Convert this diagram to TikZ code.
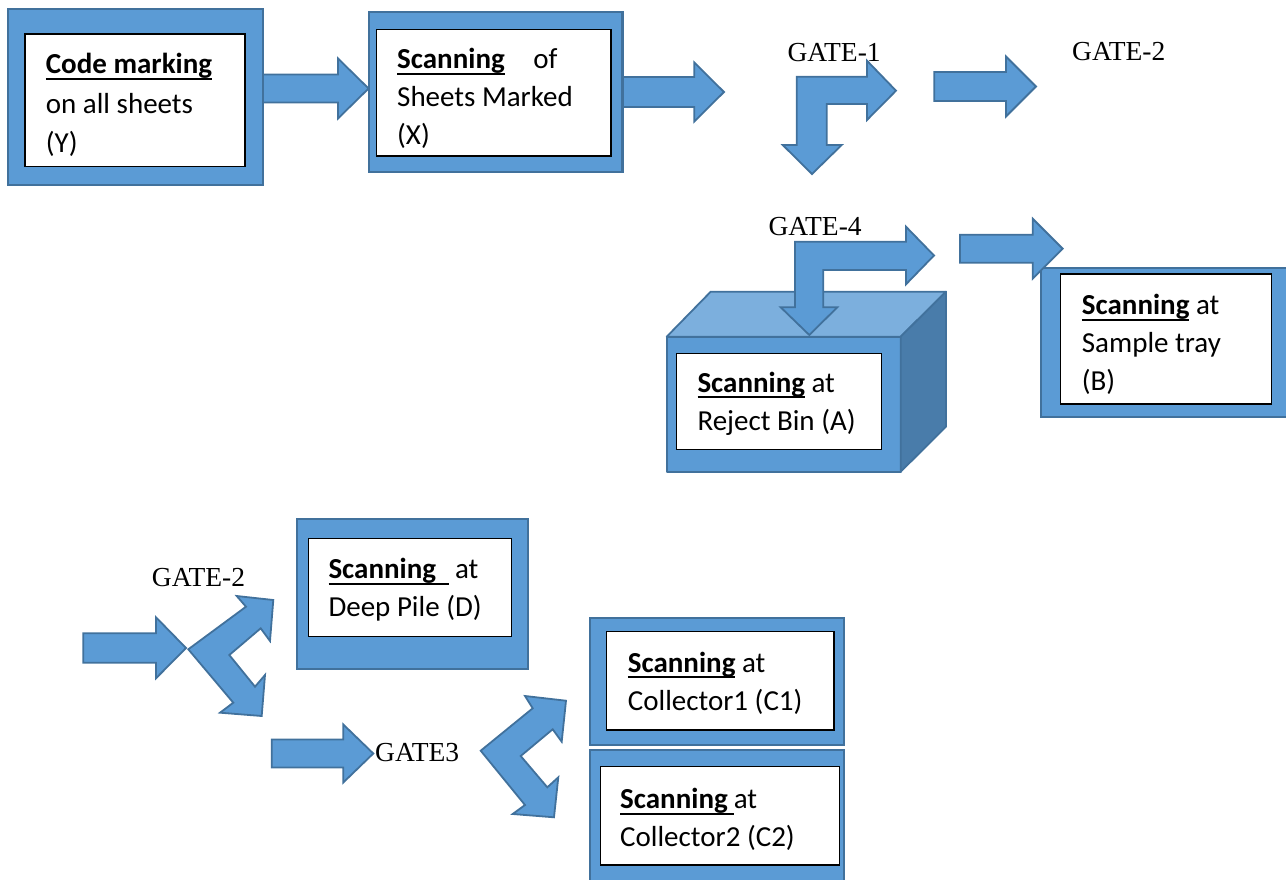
\documentclass[tikz,border=0pt]{standalone}
\usepackage{fontspec}
\setmainfont{Carlito}
\newfontfamily\gatefont{Liberation Serif}
\definecolor{bfill}{HTML}{5B9BD5}
\definecolor{bline}{HTML}{41719C}
\definecolor{btop}{HTML}{7CAFDD}
\definecolor{bside}{HTML}{497CAA}
\newcommand\myul[1]{\setbox0\hbox{#1}\leavevmode\rlap{\rule[-6pt]{\wd0}{1.8pt}}\box0\relax}
\tikzset{
 outerbox/.style={fill=bfill, draw=bline, line width=2.2pt},
 innerbox/.style={fill=white, draw=black, line width=1.3pt},
 barrow/.style={fill=bfill, draw=bline, line width=1.8pt, line join=miter},
 boxtext/.style={anchor=north west, inner sep=0pt, align=left, font=\fontsize{29}{38}\selectfont},
 gatetext/.style={anchor=base west, inner sep=0pt, font=\gatefont\fontsize{27.5}{30}\selectfont},
}
\begin{document}
\begin{tikzpicture}[x=1pt,y=-1pt]
\useasboundingbox (0,0) rectangle (1286,880);
\clip (0,0) rectangle (1286,880);
% arrows under the first boxes
\draw[barrow] (263,74.5) -- (338,74.5) -- (338,58.5) -- (368.6,88.5) -- (338,118.5) -- (338,102.5) -- (263,102.5) -- cycle;
\draw[barrow] (623,77) -- (694.3,77) -- (694.3,62.5) -- (724,92) -- (694.3,121.5) -- (694.3,107) -- (623,107) -- cycle;
% box Y
\draw[outerbox] (8,9.3) rectangle (263,185);
\draw[innerbox] (25,34) rectangle (245,166.7);
\node[boxtext, font=\fontsize{29}{39.5}\selectfont] (ty) at (45.7,49.7) {\rule{0pt}{24pt}\myul{\textbf{Code marking}}\\on all sheets\\(Y)};
% box X
\draw[outerbox] (368.6,11.7) rectangle (622.4,171.7);
\draw[innerbox] (376.3,29.3) rectangle (611,156);
\node[boxtext] (tx) at (397,44.7) {\rule{0pt}{24pt}\myul{\textbf{Scanning}}\hspace{22pt} of\\Sheets Marked\\(X)};
% gate 1
\node[gatetext] (g1) at (787.3,61.7) {GATE-1};
\draw[barrow] (796.7,76.7) -- (867,76.7) -- (867,60.7) -- (896,90.7) -- (867,120) -- (867,104) -- (826.7,104) -- (826.7,145) -- (841.7,145) -- (812,174) -- (782.7,145) -- (796.7,145) -- cycle;
\draw[barrow] (934.3,72) -- (1006,72) -- (1006,56.5) -- (1036,86.5) -- (1006,116.5) -- (1006,101) -- (934.3,101) -- cycle;
\node[gatetext] (g2a) at (1072,61) {GATE-2};
% reject bin cube
\draw[fill=bfill, draw=bline, line width=1.8pt, line join=round] (666.7,336.7) rectangle (900.7,471.7);
\draw[fill=btop, draw=bline, line width=1.8pt, line join=round] (666.7,336.7) -- (710.7,291.7) -- (946,291.7) -- (900.7,336.7) -- cycle;
\draw[fill=bside, draw=bline, line width=1.8pt, line join=round] (900.7,336.7) -- (946,291.7) -- (946,426.7) -- (900.7,471.7) -- cycle;
\draw[innerbox] (676.7,353.3) rectangle (881.7,449.3);
\node[boxtext] (ta) at (697.3,368) {\rule{0pt}{24pt}\myul{\textbf{Scanning}} at\\Reject Bin (A)};
\node[gatetext] (g4) at (768.3,236) {GATE-4};
\draw[barrow] (795,241.7) -- (906,241.7) -- (906,226.7) -- (934,255.5) -- (906,284.3) -- (906,270) -- (823.3,270) -- (823.3,307.3) -- (837.3,307.3) -- (809.3,335) -- (780.7,307.3) -- (795,307.3) -- cycle;
% sample tray
\draw[outerbox] (1040.7,268.3) rectangle (1296,416.7);
\draw[innerbox] (1060.7,274) rectangle (1271.7,404);
\node[boxtext] (tb) at (1081.7,290.7) {\rule{0pt}{24pt}\myul{\textbf{Scanning}} at\\Sample tray\\(B)};
\draw[barrow] (960,234.7) -- (1032.7,234.7) -- (1032.7,218.7) -- (1062.7,248.7) -- (1032.7,278.7) -- (1032.7,262.7) -- (960,262.7) -- cycle;
% lower part
\node[gatetext] (g2b) at (151.7,586.7) {GATE-2};
\draw[barrow] (83.3,633.3) -- (156,633.3) -- (156,617.3) -- (186,648) -- (156,678.3) -- (156,662.7) -- (83.3,662.7) -- cycle;
\draw[barrow] (188.3,649.3) -- (246,606.7) -- (236.7,596) -- (273.3,600) -- (270,641) -- (260.7,628.3) -- (229.3,655) -- (255,686.7) -- (265,675) -- (261.7,716) -- (220,712.7) -- (233.3,702.7) -- cycle;
% deep pile
\draw[outerbox] (297.3,519.3) rectangle (528.3,669.3);
\draw[innerbox] (308.3,538.3) rectangle (511.7,636.7);
\node[boxtext] (td) at (328.3,554.7) {\rule{0pt}{24pt}\myul{\textbf{Scanning}\hspace{13pt}}\hspace{6pt}at\\Deep Pile (D)};
% gate 3
\draw[barrow] (271.7,739.5) -- (343.3,739.5) -- (343.3,724.5) -- (373.3,753.5) -- (343.3,782.5) -- (343.3,767.5) -- (271.7,767.5) -- cycle;
\node[gatetext] (g3) at (375,761.7) {GATE3};
\draw[barrow] (480.7,750.7) -- (532.7,708.3) -- (525,696) -- (566,700.7) -- (561.7,741.7) -- (552.7,729.3) -- (520.7,756) -- (547.3,787.3) -- (558.3,777.3) -- (554,817.3) -- (512.7,814) -- (525,805) -- cycle;
% collectors
\draw[outerbox] (590,618.3) rectangle (844.3,745);
\draw[innerbox] (606.7,631.7) rectangle (834,730);
\node[boxtext] (tc1) at (627.7,648) {\rule{0pt}{24pt}\myul{\textbf{Scanning}} at\\Collector1 (C1)};
\draw[outerbox] (590,750) rectangle (844.3,892);
\draw[innerbox] (600.7,766.7) rectangle (839.3,865);
\node[boxtext] (tc2) at (620,784.7) {\rule{0pt}{24pt}\myul{\textbf{Scanning}\hspace{6pt}}at\\Collector2 (C2)};
\end{tikzpicture}
\end{document}
